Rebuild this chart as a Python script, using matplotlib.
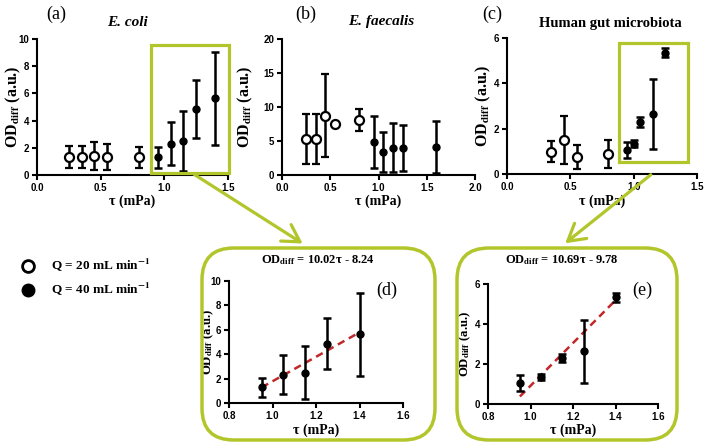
import matplotlib
matplotlib.use("Agg")
import matplotlib.pyplot as plt
from matplotlib.patches import FancyBboxPatch, Rectangle, FancyArrowPatch
import numpy as np

plt.rcParams['mathtext.fontset'] = 'stix'

# ---------------- data ----------------
# (a) E. coli
a_x20 = [0.25, 0.35, 0.45, 0.55, 0.80]
a_y20 = [1.35, 1.35, 1.40, 1.35, 1.30]
a_e20 = [0.80, 0.80, 1.00, 0.95, 0.78]
a_x40 = [0.95, 1.05, 1.15, 1.25, 1.40]
a_y40 = [1.30, 2.30, 2.50, 4.85, 5.63]
a_e40 = [0.78, 1.60, 2.20, 2.10, 3.40]

# (b) E. faecalis
b_x20 = [0.25, 0.35, 0.45, 0.55, 0.80]
b_y20 = [5.3, 5.3, 8.7, 7.5, 8.1]
b_e20 = [3.7, 3.7, 6.1, 0.0, 1.65]
b_x40 = [0.95, 1.05, 1.15, 1.25, 1.60]
b_y40 = [4.9, 3.4, 4.0, 4.0, 4.15]
b_e40 = [3.8, 2.9, 3.6, 3.35, 3.8]

# (c) Human gut microbiota
c_x20 = [0.35, 0.45, 0.55, 0.80]
c_y20 = [0.99, 1.50, 0.75, 0.88]
c_e20 = [0.47, 1.05, 0.52, 0.63]
c_x40 = [0.95, 1.00, 1.05, 1.15, 1.25]
c_y40 = [1.06, 1.33, 2.30, 2.65, 5.35]
c_e40 = [0.37, 0.15, 0.22, 1.55, 0.20]

# (d) zoom of E. coli, linear fit
d_x = [0.95, 1.05, 1.15, 1.25, 1.40]
d_y = [1.30, 2.30, 2.50, 4.85, 5.63]
d_e = [0.78, 1.60, 2.20, 2.10, 3.40]
d_slope, d_icpt = 10.02, -8.24

# (e) zoom of gut microbiota, linear fit
e_x = [0.95, 1.05, 1.15, 1.25, 1.40]
e_y = [1.05, 1.33, 2.30, 2.63, 5.33]
e_e = [0.38, 0.15, 0.22, 1.57, 0.22]
e_slope, e_icpt = 10.69, -9.78

W, H = 708, 447
GREEN = '#b2c62c'
SERIF = 'Liberation Serif'
SANS = 'Liberation Sans'

fig = plt.figure(figsize=(W / 100, H / 100), dpi=100)


def fx(px):
    return px / W


def fy(py):
    return 1 - py / H


def add_ax(x0, y0, x1, y1):
    return fig.add_axes([fx(x0), fy(y1), fx(x1) - fx(x0), fy(y0) - fy(y1)])


def style(ax, box, xlim, ylim, xticks, yticks, ylab_x, xlab_y, ylab_fs):
    x0, y0, x1, y1 = box
    ax.set_xlim(*xlim)
    ax.set_ylim(*ylim)
    ax.set_xticks(xticks)
    ax.set_yticks(yticks)
    ax.set_xticklabels([f"{t:.1f}" for t in xticks], fontfamily=SANS, fontweight='bold', fontsize=7)
    ax.set_yticklabels([f"{t:g}" for t in yticks], fontfamily=SANS, fontweight='bold', fontsize=7)
    for s in ['top', 'right']:
        ax.spines[s].set_visible(False)
    for s in ['left', 'bottom']:
        ax.spines[s].set_linewidth(1.5)
    ax.tick_params(width=1.5, length=3.5, pad=2)
    ax.set_xlabel(r'τ (mPa)', fontfamily=SERIF, fontweight='bold', fontsize=10, va='center')
    ax.set_ylabel(r'OD$_{\mathbf{diff}}$ (a.u.)', fontfamily=SERIF, fontweight='bold', fontsize=ylab_fs, va='center')
    ax.yaxis.set_label_coords((ylab_x - x0) / (x1 - x0), 0.5)
    ax.xaxis.set_label_coords(0.5, (y1 - xlab_y) / (y1 - y0))
    ax.patch.set_alpha(0)


def eb(ax, x, y, e, filled, ms=None):
    if filled:
        ax.errorbar(x, y, yerr=e, fmt='o', color='black', ms=ms or 5, elinewidth=1.8,
                    capsize=3, capthick=1.8, clip_on=False, zorder=3)
    else:
        ax.errorbar(x, y, yerr=e, fmt='o', color='black', mfc='white', mec='black', mew=1.6,
                    ms=ms or 6.5, elinewidth=1.8, capsize=3, capthick=1.8, clip_on=False, zorder=3)


# (a)
box = (37, 39, 228, 175)
axa = add_ax(*box)
style(axa, box, (0, 1.5), (0, 10), [0.0, 0.5, 1.0, 1.5], [0, 2, 4, 6, 8, 10], 13, 201, 11.5)
eb(axa, a_x20, a_y20, a_e20, False)
eb(axa, a_x40, a_y40, a_e40, True)
axa.add_patch(Rectangle((0.895, 0.12), 0.61, 9.42, fill=False, ec=GREEN, lw=2.3, clip_on=False, zorder=4))

# (b)
box = (282, 39, 475, 175)
axb = add_ax(*box)
style(axb, box, (0, 2.0), (0, 20), [0.0, 0.5, 1.0, 1.5, 2.0], [0, 5, 10, 15, 20], 245, 201, 11.5)
eb(axb, b_x20, b_y20, b_e20, False)
eb(axb, b_x40, b_y40, b_e40, True)

# (c)
box = (507, 38, 697, 174)
axc = add_ax(*box)
style(axc, box, (0, 1.5), (0, 6), [0.0, 0.5, 1.0, 1.5], [0, 2, 4, 6], 483, 201, 11.5)
eb(axc, c_x20, c_y20, c_e20, False)
eb(axc, c_x40, c_y40, c_e40, True)
axc.add_patch(Rectangle((0.882, 0.55), 0.548, 5.21, fill=False, ec=GREEN, lw=2.3, clip_on=False, zorder=4))

# (d)
box = (229, 281, 403, 403)
axd = add_ax(*box)
style(axd, box, (0.8, 1.6), (0, 10), [0.8, 1.0, 1.2, 1.4, 1.6], [0, 2, 4, 6, 8, 10], 208, 430, 9.2)
eb(axd, d_x, d_y, d_e, True)
fxv = np.array([d_x[0], d_x[-1]])
axd.plot(fxv, d_slope * fxv + d_icpt, ls=(0, (3, 2)), color='#c0282a', lw=1.8, zorder=2)

# (e)
box = (488, 284, 658, 404)
axe = add_ax(*box)
style(axe, box, (0.8, 1.6), (0, 6), [0.8, 1.0, 1.2, 1.4, 1.6], [0, 2, 4, 6], 465, 430, 9.2)
eb(axe, e_x, e_y, e_e, True)
fxv = np.array([e_x[0], e_x[-1]])
axe.plot(fxv, e_slope * fxv + e_icpt, ls=(0, (3, 2)), color='#c0282a', lw=1.8, zorder=2)

# titles and panel labels
T = fig.transFigure
fig.text(fx(56), fy(14), '(a)', family=SERIF, fontsize=13, ha='center', va='center')
fig.text(fx(127), fy(22), 'E. coli', family=SERIF, fontsize=11, fontweight='bold', style='italic', ha='center', va='center')
fig.text(fx(306), fy(14), '(b)', family=SERIF, fontsize=13, ha='center', va='center')
fig.text(fx(381), fy(22), 'E. faecalis', family=SERIF, fontsize=11, fontweight='bold', style='italic', ha='center', va='center')
fig.text(fx(492), fy(14), '(c)', family=SERIF, fontsize=13, ha='center', va='center')
fig.text(fx(610), fy(24), 'Human gut microbiota', family=SERIF, fontsize=10.5, fontweight='bold', ha='center', va='center')

fig.text(fx(318), fy(260), r'OD$_{\mathbf{diff}}$ = 10.02τ - 8.24', family=SERIF, fontsize=9, fontweight='bold', ha='center', va='center')
fig.text(fx(387), fy(290), '(d)', family=SERIF, fontsize=13, ha='center', va='center')
fig.text(fx(562), fy(260), r'OD$_{\mathbf{diff}}$ = 10.69τ - 9.78', family=SERIF, fontsize=9, fontweight='bold', ha='center', va='center')
fig.text(fx(642), fy(290), '(e)', family=SERIF, fontsize=13, ha='center', va='center')

# rounded boxes
for (x0, y0, x1, y1) in [(202, 248, 435, 440), (457, 248, 677, 440)]:
    fig.patches.append(FancyBboxPatch((fx(x0), fy(y1)), fx(x1) - fx(x0), fy(y0) - fy(y1),
                                      boxstyle='round,pad=0,rounding_size=0.045',
                                      transform=T, fill=False, ec=GREEN, lw=2.5,
                                      mutation_aspect=W / H))

# arrows
for (p0, p1) in [((192, 173), (305, 245)), ((653, 173), (563, 245))]:
    fig.patches.append(FancyArrowPatch((fx(p0[0]), fy(p0[1])), (fx(p1[0]), fy(p1[1])),
                                       transform=T, arrowstyle='->,head_length=0.6,head_width=0.35',
                                       mutation_scale=20, color=GREEN, lw=2.3))

# legend
fig.add_artist(plt.Line2D([fx(28)], [fy(266)], marker='o', ms=8.5, mfc='white', mec='black', mew=2, transform=T))
fig.add_artist(plt.Line2D([fx(28)], [fy(290)], marker='o', ms=9, mfc='black', mec='black', transform=T))
fig.text(fx(51), fy(265), r'Q = 20 mL min$^{\mathbf{-1}}$', family=SERIF, fontsize=9.5, fontweight='bold', ha='left', va='center')
fig.text(fx(51), fy(289), r'Q = 40 mL min$^{\mathbf{-1}}$', family=SERIF, fontsize=9.5, fontweight='bold', ha='left', va='center')

fig.savefig('out.png', dpi=100)
